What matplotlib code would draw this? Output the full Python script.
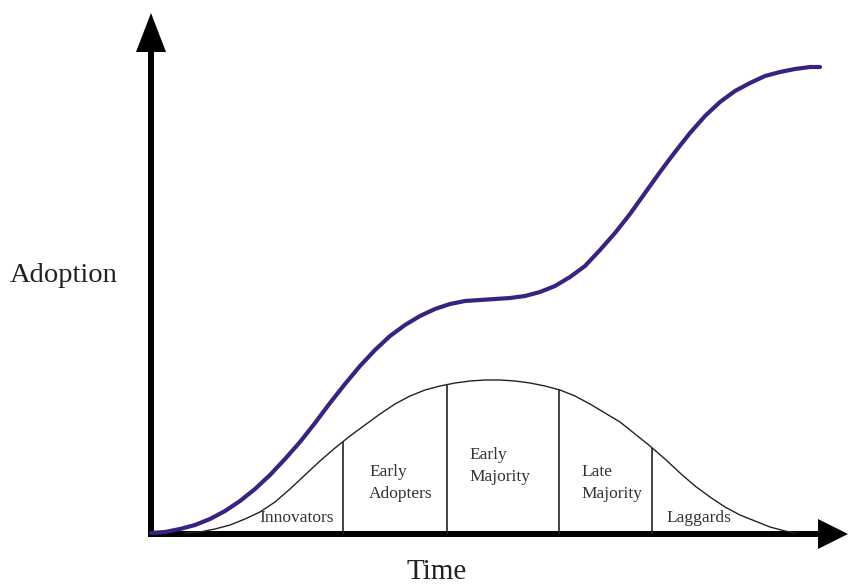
import numpy as np
import matplotlib.pyplot as plt

plt.rcParams['font.family'] = ['Liberation Serif', 'DejaVu Serif']

# adoption curve (time, adoption), origin at the axes corner
adopt_t = [0, 14, 29, 44, 59, 74, 89, 104, 119, 134, 149, 164, 179, 194, 209, 224,
           239, 254, 269, 284, 299, 314, 329, 344, 359, 374, 389, 404, 419, 434,
           449, 464, 479, 494, 509, 524, 539, 554, 569, 584, 599, 614, 629, 644,
           659, 669]
adopt_y = [1, 2, 5, 9, 15, 23, 33, 45, 59, 75, 92, 111, 131, 150, 168, 184,
           198, 209, 218, 225, 230, 233, 234, 235, 236, 238, 242, 248, 257, 268,
           284, 301, 320, 341, 362, 382, 401, 418, 432, 443, 451, 458, 462, 465,
           467, 467]

# bell curve of adopter categories
bell_t = [34, 49, 64, 79, 94, 109, 124, 139, 154, 169, 184, 199, 214, 229, 244,
          259, 274, 289, 304, 319, 334, 349, 364, 379, 394, 409, 424, 439, 454,
          469, 484, 499, 514, 529, 544, 559, 574, 589, 604, 619, 634, 644]
bell_y = [1, 2, 5, 9, 15, 22, 32, 45, 59, 73, 86, 98, 109, 120, 130,
          138, 144, 148, 151, 153, 154, 154, 153, 151, 148, 144, 138, 130, 121,
          112, 100, 88, 75, 61, 48, 37, 27, 19, 13, 7, 3, 1]

div_t = [192, 296, 408, 501]
div_y = [92, 149, 144, 86]

categories = ['Innovators', 'Early\nAdopters', 'Early\nMajority', 'Late\nMajority', 'Laggards']
label_t = [108, 218, 318, 430, 515]
label_y = [16, 51, 68, 51, 16]

fig = plt.figure(figsize=(8.5, 5.85), dpi=100)
ax = fig.add_axes([0, 0, 1, 1])
ax.set_xlim(-151, 699)
ax.set_ylim(-51, 534)
ax.axis('off')

# bell curve and dividers
ax.plot(bell_t, bell_y, color='#222222', lw=1.0)
ax.vlines(div_t, 0, div_y, color='#222222', lw=1.2)

for lab, t, y in zip(categories, label_t, label_y):
    ax.text(t, y, lab, ha='left', va='center', fontsize=12.5, color='#333333',
            linespacing=1.55)

# adoption curve
ax.plot(adopt_t, adopt_y, color='#3a2380', lw=3, solid_capstyle='round',
        solid_joinstyle='round')

# axes with arrows
ax.arrow(-3, 0, 700, 0, width=6, head_width=30, head_length=30,
         length_includes_head=True, color='black', lw=0)
ax.arrow(0, -3, 0, 524, width=6, head_width=30, head_length=39,
         length_includes_head=True, color='black', lw=0)

ax.text(-87, 259, 'Adoption', ha='center', va='center', fontsize=20.5, color='#222222')
ax.text(286, -38, 'Time', ha='center', va='center', fontsize=21, color='#222222')

fig.savefig('out.png', dpi=100)
